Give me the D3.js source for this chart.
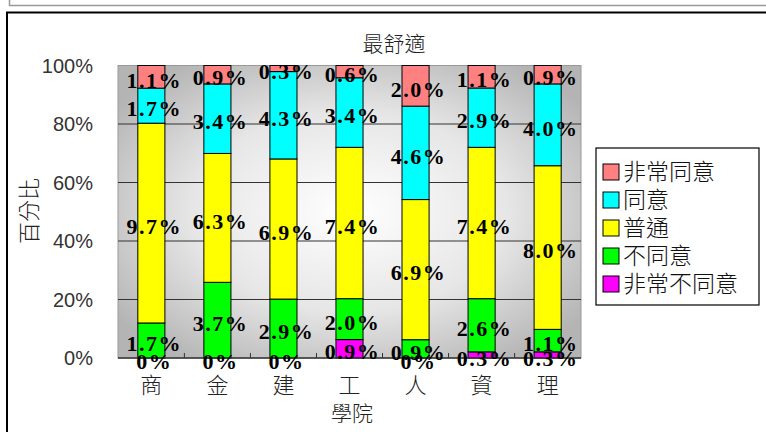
<!DOCTYPE html>
<html>
<head>
<meta charset="utf-8">
<script src="https://cdn.jsdelivr.net/npm/d3@7"></script>
<style>
  body { margin: 0; background: #fff; }
  svg { display: block; }
</style>
</head>
<body>
<div id="viz"></div>
<script>
// 100% stacked columns, labels show share of overall total

const categories = ['商', '金', '建', '工', '人', '資', '理'];
const seriesNames = ['非常同意', '同意', '普通', '不同意', '非常不同意'];
const veryAgree = [1.1, 0.9, 0.3, 0.6, 2.0, 1.1, 0.9];
const agree = [1.7, 3.4, 4.3, 3.4, 4.6, 2.9, 4.0];
const neutral = [9.7, 6.3, 6.9, 7.4, 6.9, 7.4, 8.0];
const disagree = [1.7, 3.7, 2.9, 2.0, 0.9, 2.6, 1.1];
const veryDisagree = [0, 0, 0, 0.9, 0, 0.3, 0.3];
const yTicks = [0, 20, 40, 60, 80, 100];

const seriesColors = {
    '非常同意': '#ff8080',
    '同意': '#00ffff',
    '普通': '#ffff00',
    '不同意': '#00ff00',
    '非常不同意': '#ff00ff'
};

const seriesValues = {
    '非常同意': veryAgree,
    '同意': agree,
    '普通': neutral,
    '不同意': disagree,
    '非常不同意': veryDisagree
};

var dimensions = {
    width: 766,
    height: 432,
    margins: { left: 118, right: 185, top: 65.5, bottom: 74 }
};
dimensions.boundedWidth = dimensions.width - dimensions.margins.left - dimensions.margins.right;
dimensions.boundedHeight = dimensions.height - dimensions.margins.top - dimensions.margins.bottom;

// rows for d3.stack
const rows = categories.map((c, i) => {
    let row = { cat: c };
    seriesNames.forEach(s => { row[s] = seriesValues[s][i]; });
    return row;
});

// bottom to top
const stackKeys = seriesNames.slice().reverse();
const stacked = d3.stack()
    .keys(stackKeys)
    .offset(d3.stackOffsetExpand)(rows);

const viz = d3.select('#viz').append('svg')
    .attr('width', dimensions.width)
    .attr('height', dimensions.height);

// outer frames
viz.append('path')
    .attr('d', 'M9.5,0 V5.5 H766')
    .attr('fill', 'none')
    .attr('stroke', '#999')
    .attr('stroke-width', 1.5);
viz.append('path')
    .attr('d', 'M7,432 V12.5 H766')
    .attr('fill', 'none')
    .attr('stroke', '#000')
    .attr('stroke-width', 2);

const defs = viz.append('defs');
const grad = defs.append('radialGradient')
    .attr('id', 'plotBg')
    .attr('cx', '50%').attr('cy', '50%').attr('r', '62%');
grad.append('stop').attr('offset', '0%').attr('stop-color', '#ffffff');
grad.append('stop').attr('offset', '55%').attr('stop-color', '#e6e6e6');
grad.append('stop').attr('offset', '100%').attr('stop-color', '#b4b4b4');

const bounds = viz.append('g')
    .attr('transform', `translate(${dimensions.margins.left}, ${dimensions.margins.top})`);

const xScale = d3.scaleBand()
    .domain(categories)
    .range([0, dimensions.boundedWidth])
    .paddingInner(0.59)
    .paddingOuter(0.3);

const yScale = d3.scaleLinear()
    .domain([0, 1])
    .range([dimensions.boundedHeight, 0]);

bounds.append('rect')
    .attr('width', dimensions.boundedWidth)
    .attr('height', dimensions.boundedHeight)
    .attr('fill', 'url(#plotBg)')
    .attr('stroke', '#999')
    .attr('stroke-width', 1);

// gridlines
bounds.append('g')
    .selectAll('line')
    .data(yTicks.filter(t => t > 0 && t < 100))
    .enter()
    .append('line')
        .attr('x1', 0)
        .attr('x2', dimensions.boundedWidth)
        .attr('y1', d => yScale(d / 100))
        .attr('y2', d => yScale(d / 100))
        .attr('stroke', '#333')
        .attr('stroke-width', 1.2);

// y tick labels
bounds.append('g')
    .selectAll('text')
    .data(yTicks)
    .enter()
    .append('text')
        .attr('x', -25)
        .attr('y', d => yScale(d / 100))
        .attr('dy', '0.36em')
        .attr('text-anchor', 'end')
        .attr('fill', '#333')
        .style('font-family', 'Liberation Sans, Arial, sans-serif')
        .style('font-size', '20px')
        .text(d => d + '%');

// bars
const layers = bounds.selectAll('.layer')
    .data(stacked)
    .enter()
    .append('g')
        .attr('class', 'layer')
        .attr('fill', d => seriesColors[d.key]);

layers.selectAll('rect')
    .data(d => d)
    .enter()
    .append('rect')
        .attr('x', d => xScale(d.data.cat))
        .attr('y', d => yScale(d[1]))
        .attr('width', xScale.bandwidth())
        .attr('height', d => yScale(d[0]) - yScale(d[1]))
        .attr('stroke', '#000')
        .attr('stroke-width', 1);

// x axis line + inner ticks between categories
bounds.append('line')
    .attr('x1', 0)
    .attr('x2', dimensions.boundedWidth)
    .attr('y1', dimensions.boundedHeight)
    .attr('y2', dimensions.boundedHeight)
    .attr('stroke', '#333')
    .attr('stroke-width', 1.5);

bounds.append('g')
    .selectAll('line')
    .data(categories.slice(0, -1))
    .enter()
    .append('line')
        .attr('x1', d => xScale(d) + xScale.bandwidth() / 2 + xScale.step() / 2)
        .attr('x2', d => xScale(d) + xScale.bandwidth() / 2 + xScale.step() / 2)
        .attr('y1', dimensions.boundedHeight)
        .attr('y2', dimensions.boundedHeight - 5)
        .attr('stroke', '#333')
        .attr('stroke-width', 1);

// value labels
const labelData = [];
stacked.forEach(layer => {
    layer.forEach(d => {
        labelData.push({
            cat: d.data.cat,
            value: d.data[layer.key],
            mid: (d[0] + d[1]) / 2
        });
    });
});

bounds.append('g')
    .selectAll('text')
    .data(labelData)
    .enter()
    .append('text')
        .attr('x', d => xScale(d.cat) + xScale.bandwidth() / 2 + 3)
        .attr('y', d => yScale(d.mid) + 3)
        .attr('dy', '0.35em')
        .attr('text-anchor', 'middle')
        .attr('fill', '#000')
        .style('font-family', 'Liberation Serif, Times New Roman, serif')
        .style('font-weight', 'bold')
        .style('font-size', '22px')
        .style('letter-spacing', '1.5px')
        .text(d => d.value === 0 ? '0%' : d.value.toFixed(1) + '%');

// x category labels
bounds.append('g')
    .selectAll('text')
    .data(categories)
    .enter()
    .append('text')
        .attr('x', d => xScale(d) + xScale.bandwidth() / 2)
        .attr('y', dimensions.boundedHeight + 27)
        .attr('dy', '0.35em')
        .attr('text-anchor', 'middle')
        .attr('fill', '#222')
        .style('font-family', 'Noto Sans CJK TC, sans-serif')
        .style('font-weight', '300')
        .style('font-size', '22px')
        .text(d => d);

// titles
viz.append('text')
    .attr('x', 394)
    .attr('y', 44)
    .attr('dy', '0.35em')
    .attr('text-anchor', 'middle')
    .attr('fill', '#222')
    .style('font-family', 'Noto Sans CJK TC, sans-serif')
    .style('font-weight', '300')
    .style('font-size', '21px')
    .text('最舒適');

viz.append('text')
    .attr('x', 352)
    .attr('y', 414)
    .attr('dy', '0.35em')
    .attr('text-anchor', 'middle')
    .attr('fill', '#222')
    .style('font-family', 'Noto Sans CJK TC, sans-serif')
    .style('font-weight', '300')
    .style('font-size', '21px')
    .text('學院');

viz.append('text')
    .attr('transform', 'translate(29, 211) rotate(-90)')
    .attr('dy', '0.35em')
    .attr('text-anchor', 'middle')
    .attr('fill', '#222')
    .style('font-family', 'Noto Sans CJK TC, sans-serif')
    .style('font-weight', '300')
    .style('font-size', '22px')
    .text('百分比');

// legend
const legend = viz.append('g')
    .attr('transform', 'translate(596, 148)');

legend.append('rect')
    .attr('width', 163)
    .attr('height', 157)
    .attr('fill', '#fff')
    .attr('stroke', '#000')
    .attr('stroke-width', 1.2);

const legendItems = legend.selectAll('.item')
    .data(seriesNames)
    .enter()
    .append('g')
        .attr('class', 'item')
        .attr('transform', (d, i) => `translate(0, ${24 + i * 28})`);

legendItems.append('rect')
    .attr('x', 7)
    .attr('y', -8)
    .attr('width', 16)
    .attr('height', 16)
    .attr('fill', d => seriesColors[d])
    .attr('stroke', '#000')
    .attr('stroke-width', 1);

legendItems.append('text')
    .attr('x', 27)
    .attr('y', 0)
    .attr('dy', '0.36em')
    .attr('fill', '#111')
    .style('font-family', 'Noto Sans CJK TC, sans-serif')
    .style('font-weight', '300')
    .style('font-size', '23px')
    .text(d => d);
</script>
</body>
</html>
